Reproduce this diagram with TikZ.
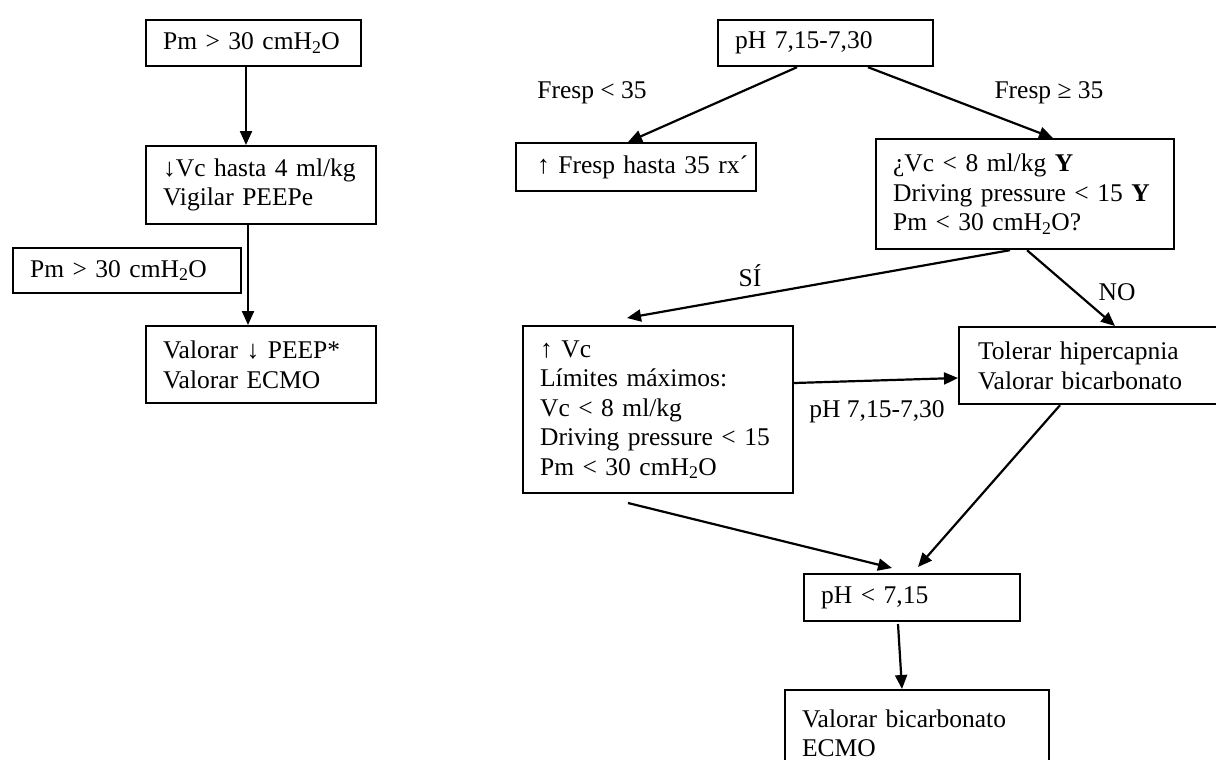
\documentclass[tikz,border=0pt]{standalone}
\usepackage{fontspec}
\setmainfont{Liberation Serif}
\usetikzlibrary{arrows.meta}
\tikzset{
  box/.style={draw, line width=2.2pt, anchor=north west, inner xsep=17pt, inner ysep=0pt,
    align=left, font=\fontsize{25.5}{29.5}\selectfont},
  lbl/.style={font=\fontsize{25.5}{29.5}\selectfont, inner sep=0pt},
  arr/.style={line width=2.2pt, -{Triangle[length=14pt,width=12pt]}},
}
\begin{document}
\begin{tikzpicture}[x=1pt,y=-1pt]
\useasboundingbox (0,0) rectangle (1216,760);
\clip (0,0) rectangle (1216,760);
\fill[white] (0,0) rectangle (1216,760);
% left column
\node[box, text width=181pt, minimum height=46pt] (b1) at (145,19) {Pm > 30 cmH\textsubscript{2}O};
\node[box, text width=196pt, minimum height=78pt] (b2) at (145,145) {↓Vc hasta 4 ml/kg\\Vigilar PEEPe};
\node[box, text width=194pt, minimum height=45pt] (b3) at (12,247) {Pm > 30 cmH\textsubscript{2}O};
\node[box, text width=196pt, minimum height=77pt] (b4) at (145,325) {Valorar ↓ PEEP*\\Valorar ECMO};
% right part
\node[box, text width=181pt, minimum height=46pt] (b5) at (717,19) {pH 7,15-7,30};
\node[box, inner xsep=21pt, text width=198pt, minimum height=48pt] (b6) at (515,142) {\mbox{↑ Fresp hasta 35 rx´}};
\node[box, text width=264pt, minimum height=110pt] (b7) at (875,138) {¿Vc < 8 ml/kg \textbf{Y}\\Driving pressure < 15 \textbf{Y}\\Pm < 30 cmH\textsubscript{2}O?};
\node[box, text width=236pt, minimum height=167pt] (b8) at (522,325) {↑ Vc\\Límites máximos:\\Vc < 8 ml/kg\\Driving pressure < 15\\Pm < 30 cmH\textsubscript{2}O};
\node[box, inner xsep=19pt, text width=300pt, minimum height=77pt] (b9) at (958,326) {Tolerar hipercapnia\\Valorar bicarbonato};
\node[box, text width=182pt, minimum height=47pt] (b10) at (803,573) {pH < 7,15};
\node[box, text width=230pt, minimum height=86pt] (b11) at (784,689) {Valorar bicarbonato\\ECMO};
% labels
\node[lbl] (l1) at (592,93) {Fresp < 35};
\node[lbl] (l2) at (1049,93) {Fresp ≥ 35};
\node[lbl] (l3) at (750,276) {SÍ};
\node[lbl] (l4) at (1117,292) {NO};
\node[lbl] (l5) at (877,412) {pH 7,15-7,30};
% helper coordinates
\coordinate (s8) at (628,503);
\coordinate (t10a) at (892,568);
\coordinate (t8) at (627,318);
% connectors
\draw[arr] (246,0 |- b1.south) -- (246,0 |- b2.north);
\draw[arr] (248,0 |- b2.south) -- (248,0 |- b4.north);
\draw[arr] (797,0 |- b5.south) -- (628,0 |- b6.north);
\draw[arr] (868,0 |- b5.south) -- (1053,0 |- b7.north);
\draw[arr] (1010,0 |- b7.south) -- (t8);
\draw[arr] (1027,0 |- b7.south) -- (1115,0 |- b9.north);
\draw[arr] (b8.east |- 0,383) -- (b9.west |- 0,378);
\draw[arr] (s8) -- (t10a);
\draw[arr] (1060,0 |- b9.south) -- (918,567);
\draw[arr] (898,624) -- (902,0 |- b11.north);
\end{tikzpicture}
\end{document}
